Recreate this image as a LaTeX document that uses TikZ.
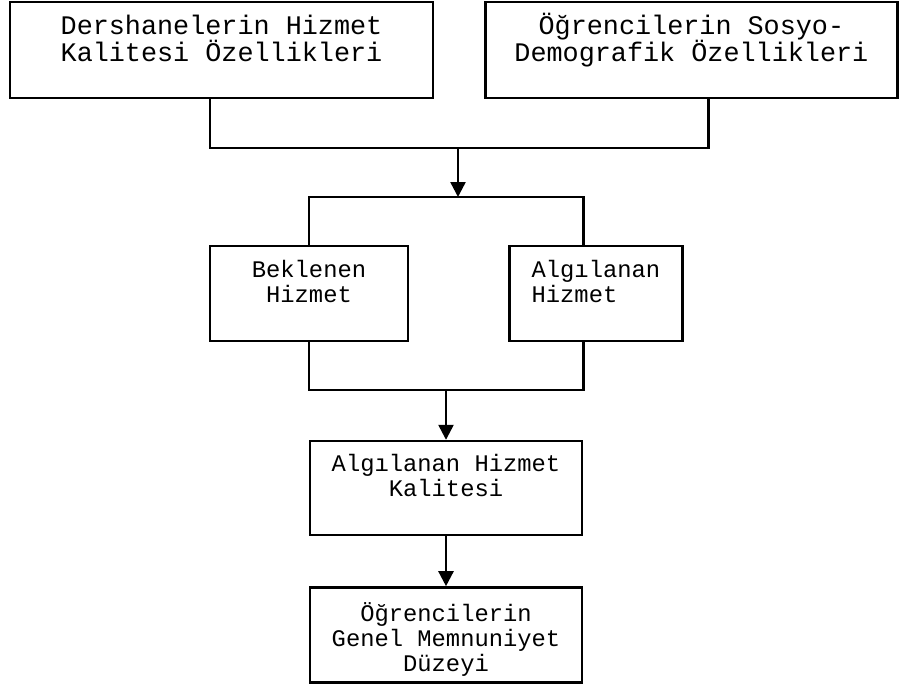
\documentclass[tikz,border=0pt]{standalone}
\usepackage{fontspec}
\newfontfamily\courfont{Liberation Mono}
\usepackage{tikz}
\usetikzlibrary{positioning, arrows.meta}
\tikzstyle{block} = [rectangle, draw=black, line width=2.4pt, align=center, inner sep=0pt, text depth=0pt, font=\courfont\fontsize{23.8}{25}\selectfont]
\tikzstyle{topblock} = [block, minimum height=96pt, text height=24pt, font=\courfont\fontsize{26.8}{28}\selectfont]
\tikzstyle{line} = [line width=2.4pt]
\tikzstyle{arrow} = [line width=2.4pt, -{Triangle[length=15pt, width=15pt]}]

\begin{document}
\begin{tikzpicture}[x=1pt, y=-1pt]
            \useasboundingbox (0,0) rectangle (899,685);
            \node (top1) [topblock, minimum width=423pt] at (221.5,50) {Dershanelerin Hizmet\\Kalitesi Özellikleri};
            \node (top2) [topblock, minimum width=412pt, right=50pt of top1] {Öğrencilerin Sosyo-\\Demografik Özellikleri};

            \node (bekl) [block, minimum width=198pt, minimum height=95pt, text height=17pt] at (309,293.5) {Beklenen\\Hizmet};
            \node (algi) [block, minimum width=173pt, minimum height=95pt, text height=17pt, align=left, right=99pt of bekl] {Algılanan\\Hizmet};

            \node (kalite) [block, minimum width=272pt, minimum height=94pt, text height=16pt] at (446,488) {Algılanan Hizmet\\Kalitesi};
            \node (memnun) [block, minimum width=272pt, minimum height=95pt, text height=73pt, below=50pt of kalite] {Öğrencilerin\\Genel Memnuniyet\\Düzeyi};

            \coordinate (m1) at (458,148);
            \coordinate (s1) at (458,197);
            \coordinate (m2) at (446,390);

            \draw [line] ([xshift=-11.5pt]top1.south) |- (m1);
            \draw [line] ([xshift=17pt]top2.south) |- (m1);
            \draw [arrow] (m1) -- (s1);
            \draw [line] (bekl.north) |- (s1) -| ([xshift=-12.5pt]algi.north);
            \draw [line] (bekl.south) |- (m2) -| ([xshift=-12.5pt]algi.south);
            \draw [arrow] (m2) -- (kalite);
            \draw [arrow] (kalite) -- (memnun);
        \end{tikzpicture}
\end{document}
